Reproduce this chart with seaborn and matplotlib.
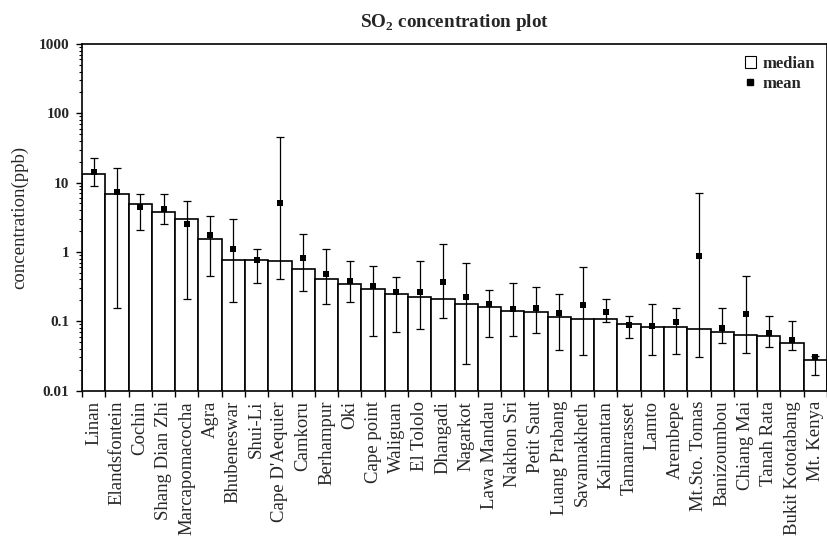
import numpy as np
import matplotlib
matplotlib.use('Agg')
import matplotlib.pyplot as plt
import matplotlib.ticker as mticker
from matplotlib.patches import Patch
from matplotlib.lines import Line2D
import seaborn as sns

# station order as in the figure (sorted by median)
sites = ['Linan', 'Elandsfontein', 'Cochin', 'Shang Dian Zhi', 'Marcapomacocha', 'Agra',
         'Bhubeneswar', 'Shui-Li', "Cape D'Aequier", 'Camkoru', 'Berhampur', 'Oki',
         'Cape point', 'Waliguan', 'El Tololo', 'Dhangadi', 'Nagarkot', 'Lawa Mandau',
         'Nakhon Sri', 'Petit Saut', 'Luang Prabang', 'Savannakheth', 'Kalimantan',
         'Tamanrasset', 'Lamto', 'Arembepe', 'Mt.Sto. Tomas', 'Banizoumbou', 'Chiang Mai',
         'Tanah Rata', 'Bukit Kototabang', 'Mt. Kenya']

median = [13.1, 6.9, 4.9, 3.8, 3.0, 1.53, 0.77, 0.77, 0.73, 0.57, 0.40, 0.34,
          0.29, 0.25, 0.22, 0.21, 0.175, 0.158, 0.14, 0.134, 0.114, 0.106, 0.106,
          0.092, 0.082, 0.082, 0.076, 0.069, 0.064, 0.061, 0.048, 0.028]
mean = [14.1, 7.2, 4.5, 4.1, 2.5, 1.76, 1.09, 0.76, 5.1, 0.81, 0.48, 0.38,
        0.32, 0.26, 0.26, 0.37, 0.225, 0.175, 0.151, 0.156, 0.132, 0.172, 0.136,
        0.089, 0.086, 0.098, 0.87, 0.080, 0.128, 0.067, 0.053, 0.030]
err_low = [9.0, 0.155, 2.1, 2.5, 0.21, 0.45, 0.19, 0.36, 0.41, 0.27, 0.175, 0.19,
           0.062, 0.070, 0.078, 0.11, 0.024, 0.060, 0.062, 0.068, 0.038, 0.033, 0.096,
           0.058, 0.033, 0.034, 0.030, 0.048, 0.035, 0.042, 0.038, 0.017]
err_high = [22.8, 16.3, 6.9, 6.9, 5.4, 3.3, 3.0, 1.1, 46.0, 1.8, 1.1, 0.75,
            0.63, 0.44, 0.75, 1.29, 0.69, 0.28, 0.36, 0.31, 0.25, 0.61, 0.21,
            0.117, 0.175, 0.154, 7.0, 0.154, 0.45, 0.117, 0.102, 0.031]
ytick_vals = [0.01, 0.1, 1, 10, 100, 1000]
ytick_labels = ['0.01', '0.1', '1', '10', '100', '1000']

sns.set_style('ticks')
plt.rcParams['font.family'] = ['Liberation Serif', 'DejaVu Serif']
plt.rcParams['mathtext.fontset'] = 'custom'
plt.rcParams['mathtext.rm'] = 'Liberation Serif'
plt.rcParams['mathtext.bf'] = 'Liberation Serif:bold'

fig = plt.figure(figsize=(8.27, 5.39), dpi=100)
ax = fig.add_axes([0.0992, 0.2755, 0.9008, 0.6429])
ax.set_yscale('log')

pos = np.arange(len(sites))
sns.barplot(x=pos, y=median, color='white', edgecolor='black', linewidth=1.2,
            width=1.0, saturation=1, native_scale=True, ax=ax)

mean_a = np.array(mean)
yerr = [mean_a - np.array(err_low), np.array(err_high) - mean_a]
ax.errorbar(pos, mean_a, yerr=yerr, fmt='none', ecolor='black', elinewidth=0.9,
            capsize=2.6, capthick=0.9, zorder=3)
sns.scatterplot(x=pos, y=mean, marker='s', color='black', s=24, linewidth=0,
                ax=ax, zorder=4)

ax.set_xlim(-0.5, len(sites) - 0.5)
ax.set_ylim(0.01, 1000)

# x: labels at bar centres, tick marks at bar boundaries
ax.set_xticks(pos)
ax.set_xticklabels(sites, rotation=90, fontsize=13.5)
ax.set_xticks(np.arange(len(sites) + 1) - 0.5, minor=True)
ax.tick_params(axis='x', which='major', length=0, pad=7.5)
ax.tick_params(axis='x', which='minor', length=4.5, width=1, color='black', direction='out')

ax.yaxis.set_major_locator(mticker.FixedLocator(ytick_vals))
ax.yaxis.set_major_formatter(mticker.FixedFormatter(ytick_labels))
ax.yaxis.set_minor_locator(mticker.LogLocator(base=10, subs=np.arange(2, 10)))
ax.yaxis.set_minor_formatter(mticker.NullFormatter())
ax.tick_params(axis='y', which='major', length=4, width=1, color='black', pad=5,
               labelsize=11)
ax.tick_params(axis='y', which='minor', length=2.5, width=0.8, color='black')
for lab in ax.get_yticklabels():
    lab.set_fontweight('bold')

for side in ['left', 'bottom', 'top', 'right']:
    ax.spines[side].set_color('black')
    ax.spines[side].set_linewidth(1.2)

ax.set_xlabel('')
ax.set_ylabel('concentration(ppb)', fontsize=13.5, labelpad=8)
ax.set_title(r'SO$_\mathbf{2}$ concentration plot', fontsize=13.8, fontweight='bold', pad=12)

handles = [Patch(facecolor='white', edgecolor='black', linewidth=0.8),
           Line2D([], [], marker='s', color='black', linestyle='none', markersize=4)]
ax.legend(handles, ['median', 'mean'], loc='upper right', frameon=False,
          prop={'family': 'Liberation Serif', 'weight': 'bold', 'size': 12},
          handlelength=0.7, handleheight=0.7, handletextpad=0.4, labelspacing=0.25,
          borderaxespad=0.3)

fig.savefig('out.png', dpi=100)
